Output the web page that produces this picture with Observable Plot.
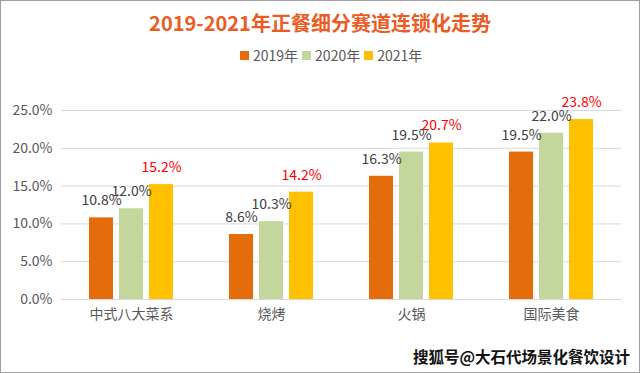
<!DOCTYPE html>
<html>
<head>
<meta charset="utf-8">
<script src="https://cdn.jsdelivr.net/npm/d3@7"></script>
<script src="https://cdn.jsdelivr.net/npm/@observablehq/plot@0.6"></script>
<style>
  html, body { margin: 0; padding: 0; background: #fff; }
  #wrap { position: relative; width: 640px; height: 373px; overflow: hidden; background: #fff;
          font-family: "Noto Sans CJK SC", "Noto Sans", sans-serif; }
  #frame { position: absolute; left: 0; top: 0; width: 640px; height: 373px; box-sizing: border-box;
           border: 1px solid #A0A0A0; pointer-events: none; z-index: 5; }
  #title { position: absolute; left: 0; width: 640px; top: 9px; text-align: center;
           font-size: 20px; line-height: 28px; font-weight: bold; color: #EB5B24; }
  #legend { position: absolute; left: 240px; top: 45px; height: 20px; display: flex; align-items: center;
            font-size: 14px; color: #595959; }
  #legend .sw { width: 9px; height: 9px; margin-right: 4px; }
  #legend .lb { margin-right: 4px; }
  #chart { position: absolute; left: 0; top: 80px; }
  #chart svg { overflow: visible; }
  #wm { position: absolute; right: 10px; top: 345px; font-size: 15.5px; line-height: 22px; font-weight: bold;
        color: #111; text-shadow: 0 0 1px #fff, 0 0 1px #fff; }
</style>
</head>
<body>
<div id="wrap">
  <div id="title">2019-2021年正餐细分赛道连锁化走势</div>
  <div id="legend"></div>
  <div id="chart"></div>
  <div id="wm">搜狐号@大石代场景化餐饮设计</div>
  <div id="frame"></div>
</div>
<script>
const categories = ["中式八大菜系", "烧烤", "火锅", "国际美食"];
const years = ["2019年", "2020年", "2021年"];
const v2019 = [0.108, 0.086, 0.163, 0.195];
const v2020 = [0.120, 0.103, 0.195, 0.220];
const v2021 = [0.152, 0.142, 0.207, 0.238];
const yTicks = [0, 0.05, 0.10, 0.15, 0.20, 0.25];
const colors = ["#E46C0A", "#C3D69B", "#FFC000"];

const series = [v2019, v2020, v2021];
const data = categories.flatMap((c, i) => years.map((y, j) => ({cat: c, year: y, value: series[j][i]})));
const pct = v => (v * 100).toFixed(1) + "%";

// legend
const legend = document.getElementById("legend");
years.forEach((y, j) => {
  const sw = document.createElement("div");
  sw.className = "sw";
  sw.style.background = colors[j];
  const lb = document.createElement("div");
  lb.className = "lb";
  lb.textContent = y;
  legend.appendChild(sw);
  legend.appendChild(lb);
});

const chart = Plot.plot({
  width: 640,
  height: 293,
  marginTop: 30,
  marginBottom: 74,
  marginLeft: 60,
  marginRight: 18,
  style: {fontFamily: '"Noto Sans CJK SC", "Noto Sans", sans-serif', fontSize: "14px", background: "transparent"},
  fx: {domain: categories, padding: 0, label: null},
  x: {domain: years, paddingInner: 0.21, paddingOuter: 0.87, axis: null},
  y: {domain: [0, 0.25], label: null},
  color: {domain: years, range: colors},
  marks: [
    Plot.gridY(yTicks, {stroke: "#D9D9D9", strokeOpacity: 1, strokeWidth: 1}),
    Plot.axisY(yTicks, {tickSize: 0, tickPadding: 9, tickFormat: pct, fill: "#595959", fontSize: 14, label: null}),
    Plot.axisFx({anchor: "bottom", tickSize: 0, tickPadding: 10, fill: "#595959", fontSize: 14, label: null}),
    Plot.barY(data, {fx: "cat", x: "year", y: "value", fill: "year"}),
    Plot.text(data, {filter: d => d.year !== "2021年", fx: "cat", x: "year", y: "value",
      text: d => pct(d.value), dy: -17, fill: "#404040", fontSize: 14}),
    Plot.text(data, {filter: d => d.year === "2021年", fx: "cat", x: "year", y: "value",
      text: d => pct(d.value), dy: -17, fill: "#FF0000", fontSize: 14})
  ]
});
document.getElementById("chart").appendChild(chart);
</script>
</body>
</html>
